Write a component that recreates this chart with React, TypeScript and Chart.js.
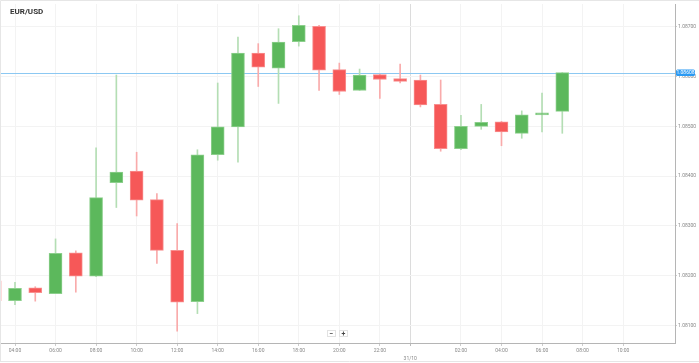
import React, { useEffect, useRef } from "react";
import { Chart, registerables } from "chart.js";

Chart.register(...registerables);

// hour offsets from 00:00 of 30/10 (24 = 00:00 of 31/10)
const hours = [3, 4, 5, 6, 7, 8, 9, 10, 11, 12, 13, 14, 15, 16, 17, 18, 19, 20, 21, 22, 23, 24, 25, 26, 27, 28, 29, 30, 31];
const opens = [1.0819, 1.0815, 1.08176, 1.08164, 1.08246, 1.08199, 1.08387, 1.0841, 1.08353, 1.08251, 1.08148, 1.08443, 1.08499, 1.08647, 1.08617, 1.0867, 1.08701, 1.08614, 1.08572, 1.08604, 1.08596, 1.08593, 1.08544, 1.08455, 1.085, 1.08509, 1.08486, 1.08523, 1.0853];
const highs = [1.08196, 1.08187, 1.08178, 1.08274, 1.0825, 1.08457, 1.08603, 1.08448, 1.08365, 1.08305, 1.08453, 1.08587, 1.08679, 1.08666, 1.08696, 1.08722, 1.08703, 1.08627, 1.08615, 1.08605, 1.08625, 1.08603, 1.08593, 1.08522, 1.08544, 1.0851, 1.08531, 1.08567, 1.08608];
const lows = [1.08145, 1.08142, 1.08149, 1.08164, 1.08167, 1.08198, 1.08337, 1.0832, 1.08225, 1.08089, 1.08124, 1.08432, 1.08428, 1.0858, 1.08546, 1.08661, 1.08572, 1.08564, 1.08572, 1.08556, 1.08587, 1.08539, 1.0845, 1.08453, 1.08494, 1.08461, 1.08476, 1.08489, 1.08486];
const closes = [1.0815, 1.08175, 1.08166, 1.08245, 1.08199, 1.08357, 1.08408, 1.08352, 1.08251, 1.08147, 1.08443, 1.08499, 1.08647, 1.08619, 1.08669, 1.08703, 1.08613, 1.0857, 1.08603, 1.08594, 1.0859, 1.08543, 1.08455, 1.085, 1.08508, 1.08489, 1.08523, 1.08527, 1.08608];

const xTickValues = [4, 6, 8, 10, 12, 14, 16, 18, 20, 22, 23.5, 26, 28, 30, 32, 34];
const dayBreak = 23.5;
const dayLabel = "31/10";
const yTickValues = [1.081, 1.082, 1.083, 1.084, 1.085, 1.086, 1.087];
const currentPrice = 1.08608;
const symbol = "EUR/USD";

const X_MIN = 3.26;
const X_MAX = 36.56;
const Y_MIN = 1.08065;
const Y_MAX = 1.087456;

const GREEN = "#5cb85c";
const GREEN_EDGE = "#8ccf8c";
const GREEN_WICK = "#b4deb4";
const RED = "#f65858";
const RED_EDGE = "#f88f8f";
const RED_WICK = "#f9abab";

const FONT = "Roboto";

export default function App() {
  const canvasRef = useRef<HTMLCanvasElement | null>(null);

  useEffect(() => {
    document.body.style.margin = "0";
    const canvas = canvasRef.current;
    if (!canvas) return;

    const up = hours.map((_, i) => closes[i] >= opens[i]);
    const bodies = hours.map((h, i) => ({ x: h, y: [Math.min(opens[i], closes[i]), Math.max(opens[i], closes[i])] }));
    const wicks = hours.map((h, i) => ({ x: h, y: [lows[i], highs[i]] }));

    const overlay = {
      id: "overlay",
      beforeDatasetsDraw(chart: any) {
        const { ctx, chartArea } = chart;
        const y = Math.round(chart.scales.y.getPixelForValue(currentPrice)) + 0.5;
        ctx.save();
        ctx.strokeStyle = "#8cc8f2";
        ctx.lineWidth = 1;
        ctx.beginPath();
        ctx.moveTo(chartArea.left, y);
        ctx.lineTo(chartArea.right, y);
        ctx.stroke();
        ctx.restore();
      },
      afterDraw(chart: any) {
        const { ctx, chartArea } = chart;
        ctx.save();
        // outer frame
        ctx.strokeStyle = "#e6e6e6";
        ctx.lineWidth = 1;
        ctx.beginPath();
        ctx.moveTo(0.5, 362);
        ctx.lineTo(0.5, 0.5);
        ctx.lineTo(699, 0.5);
        ctx.moveTo(0, 361.5);
        ctx.lineTo(699, 361.5);
        ctx.stroke();
        // title
        ctx.fillStyle = "#333";
        ctx.font = `bold 8px ${FONT}`;
        ctx.textBaseline = "middle";
        ctx.textAlign = "left";
        ctx.fillText(symbol, 10, 11.5);
        // price tag
        const y = chart.scales.y.getPixelForValue(currentPrice);
        const tx = chartArea.right + 1;
        ctx.fillStyle = "#2b9af3";
        ctx.beginPath();
        (ctx as any).roundRect ? (ctx as any).roundRect(tx, y - 3, 19, 6.5, 1.5) : ctx.rect(tx, y - 3, 19, 6.5);
        ctx.fill();
        ctx.fillStyle = "#ffffff";
        ctx.font = `5px ${FONT}`;
        ctx.textAlign = "center";
        ctx.fillText(currentPrice.toFixed(5), tx + 9.5, y + 0.3);
        // zoom buttons
        const btns = ["\u2212", "+"];
        btns.forEach((b, i) => {
          const bx = 327 + i * 12;
          ctx.fillStyle = "#ffffff";
          ctx.fillRect(bx, 330, 9, 7);
          ctx.strokeStyle = "#e2e2e2";
          ctx.strokeRect(bx + 0.5, 330.5, 8, 6);
          ctx.fillStyle = "#444";
          ctx.font = `bold 7px ${FONT}`;
          ctx.textAlign = "center";
          ctx.fillText(b, bx + 4.5, 333.8);
        });
        ctx.restore();
      },
    };

    const chart = new Chart(canvas, {
      type: "bar",
      data: {
        datasets: [
          {
            label: "wick",
            data: wicks as any,
            backgroundColor: up.map((u) => (u ? GREEN_WICK : RED_WICK)),
            barThickness: 1,
            grouped: false,
            order: 2,
          } as any,
          {
            label: "body",
            data: bodies as any,
            backgroundColor: up.map((u) => (u ? GREEN : RED)),
            borderColor: up.map((u) => (u ? GREEN_EDGE : RED_EDGE)),
            borderWidth: 1,
            borderSkipped: false,
            barThickness: 13,
            grouped: false,
            order: 1,
          } as any,
        ],
      },
      options: {
        animation: false,
        responsive: false,
        maintainAspectRatio: false,
        layout: { padding: 0 },
        plugins: {
          legend: { display: false },
          tooltip: { enabled: false },
          title: { display: false },
        },
        scales: {
          x: {
            type: "linear",
            offset: false,
            min: X_MIN,
            max: X_MAX,
            afterBuildTicks: (scale: any) => {
              scale.ticks = xTickValues.map((v) => ({ value: v }));
            },
            afterFit: (scale: any) => {
              scale.height = 20;
            },
            ticks: {
              autoSkip: false,
              maxRotation: 0,
              padding: 1,
              color: "#888",
              font: { family: FONT, size: 5, lineHeight: 1.5 },
              callback: (v: any) => {
                const n = Number(v);
                if (n === dayBreak) return ["", dayLabel];
                const h = ((n % 24) + 24) % 24;
                return String(h).padStart(2, "0") + ":00";
              },
            },
            grid: {
              offset: false,
              color: (c: any) => (c.tick && c.tick.value === dayBreak ? "#dcdcdc" : "#f3f3f3"),
              tickColor: (c: any) => (c.tick && c.tick.value === dayBreak ? "#bbbbbb" : "#cccccc"),
              tickLength: 3,
              lineWidth: 1,
            },
            border: { color: "#b5b5b5", width: 1 },
          },
          y: {
            type: "linear",
            position: "right",
            min: Y_MIN,
            max: Y_MAX,
            afterBuildTicks: (scale: any) => {
              scale.ticks = yTickValues.map((v) => ({ value: v }));
            },
            afterFit: (scale: any) => {
              scale.width = 24;
            },
            ticks: {
              padding: 1,
              color: "#888",
              font: { family: FONT, size: 5 },
              callback: (v: any) => Number(v).toFixed(5),
            },
            grid: {
              color: "#f3f3f3",
              tickColor: "#cccccc",
              tickLength: 2,
              lineWidth: 1,
            },
            border: { color: "#b5b5b5", width: 1 },
          },
        },
      },
      plugins: [overlay],
    });

    return () => chart.destroy();
  }, []);

  return (
    <div style={{ width: 699, height: 363, position: "relative", background: "#fff" }}>
      <canvas ref={canvasRef} width={699} height={363} style={{ display: "block" }} />
    </div>
  );
}
